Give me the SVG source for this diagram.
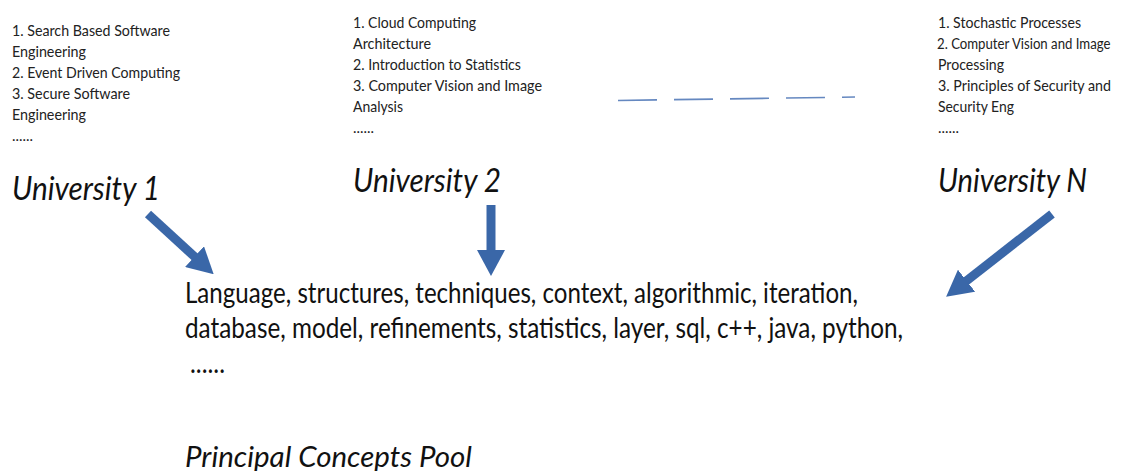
<svg xmlns="http://www.w3.org/2000/svg" width="1128" height="471" viewBox="0 0 1128 471">
<style>
.s{font-family:Lato,"Liberation Sans",sans-serif;font-size:15px;fill:#222}
.u{font-family:Lato,"Liberation Sans",sans-serif;font-size:33px;font-style:italic;fill:#111}
.m{font-family:Lato,"Liberation Sans",sans-serif;font-size:28px;fill:#111}
.arr{stroke:#3a67a8;stroke-width:9;fill:none}
.dash{stroke:#4a73b5;stroke-width:1.6;stroke-dasharray:39 17;fill:none;opacity:0.85}
</style>
<defs>
<marker id="ah" markerUnits="userSpaceOnUse" viewBox="0 0 26 28" refX="2" refY="14" markerWidth="26" markerHeight="28" orient="auto">
<path d="M0,0 L26,14 L0,28 Z" fill="#3a67a8"/>
</marker>
</defs>
<rect width="1128" height="471" fill="#fff"/>
<g id="university1">
<text class="s" x="12" y="36" textLength="158" lengthAdjust="spacingAndGlyphs">1. Search Based Software</text>
<text class="s" x="12" y="57" textLength="74" lengthAdjust="spacingAndGlyphs">Engineering</text>
<text class="s" x="12" y="78" textLength="168" lengthAdjust="spacingAndGlyphs">2. Event Driven Computing</text>
<text class="s" x="12" y="99" textLength="118" lengthAdjust="spacingAndGlyphs">3. Secure Software</text>
<text class="s" x="12" y="120" textLength="74" lengthAdjust="spacingAndGlyphs">Engineering</text>
<text class="s" x="12" y="141" textLength="21" lengthAdjust="spacingAndGlyphs">......</text>
<text class="u" x="12" y="200" textLength="148" lengthAdjust="spacingAndGlyphs">University 1</text>
</g>
<g id="university2">
<text class="s" x="353" y="28" textLength="123" lengthAdjust="spacingAndGlyphs">1. Cloud Computing</text>
<text class="s" x="353" y="49" textLength="78" lengthAdjust="spacingAndGlyphs">Architecture</text>
<text class="s" x="353" y="70" textLength="168" lengthAdjust="spacingAndGlyphs">2. Introduction to Statistics</text>
<text class="s" x="353" y="91" textLength="189" lengthAdjust="spacingAndGlyphs">3. Computer Vision and Image</text>
<text class="s" x="353" y="112" textLength="50" lengthAdjust="spacingAndGlyphs">Analysis</text>
<text class="s" x="353" y="133" textLength="21" lengthAdjust="spacingAndGlyphs">......</text>
<text class="u" x="353" y="192" textLength="148" lengthAdjust="spacingAndGlyphs">University 2</text>
</g>
<g id="universityN">
<text class="s" x="938" y="28" textLength="143" lengthAdjust="spacingAndGlyphs">1. Stochastic Processes</text>
<text class="s" transform="translate(937,49) scale(0.88,1)">2. Computer Vision and Image</text>
<text class="s" x="938" y="70" textLength="66" lengthAdjust="spacingAndGlyphs">Processing</text>
<text class="s" x="938" y="91" textLength="173" lengthAdjust="spacingAndGlyphs">3. Principles of Security and</text>
<text class="s" x="938" y="112" textLength="76" lengthAdjust="spacingAndGlyphs">Security Eng</text>
<text class="s" x="938" y="133" textLength="21" lengthAdjust="spacingAndGlyphs">......</text>
<text class="u" x="938" y="192" textLength="149" lengthAdjust="spacingAndGlyphs">University N</text>
</g>
<g id="pool">
<text class="m" x="185" y="303" textLength="673" lengthAdjust="spacingAndGlyphs">Language, structures, techniques, context, algorithmic, iteration,</text>
<text class="m" x="185" y="338" textLength="718" lengthAdjust="spacingAndGlyphs">database, model, refinements, statistics, layer, sql, c++, java, python,</text>
<text class="m" x="190" y="373" textLength="35" lengthAdjust="spacingAndGlyphs">......</text>
<text class="u" x="185" y="467" style="font-size:28px" textLength="287" lengthAdjust="spacingAndGlyphs">Principal Concepts Pool</text>
</g>
<g id="connectors">
<line class="dash" x1="618" y1="100.5" x2="855" y2="97"/>
<line class="arr" x1="148" y1="214" x2="196" y2="258" marker-end="url(#ah)"/>
<line class="arr" x1="491" y1="205" x2="491" y2="252" marker-end="url(#ah)"/>
<line class="arr" x1="1052" y1="214" x2="965" y2="282" marker-end="url(#ah)"/>
</g>
</svg>
